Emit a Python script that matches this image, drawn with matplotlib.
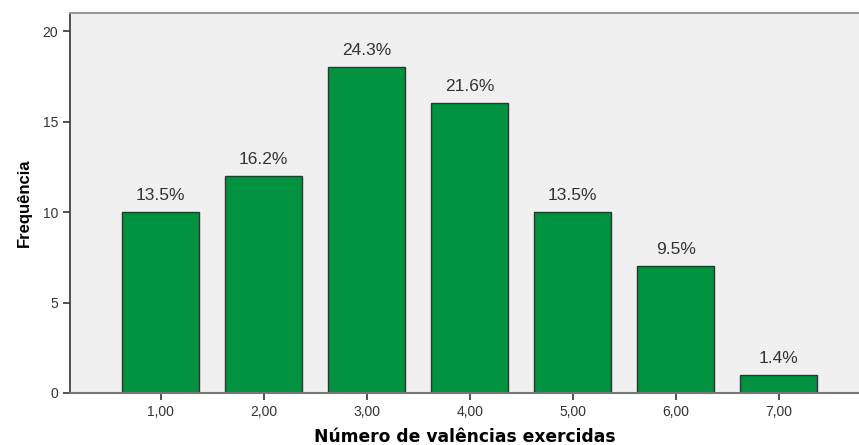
import matplotlib
matplotlib.use('Agg')
import matplotlib.pyplot as plt

# data
categories = ['1,00', '2,00', '3,00', '4,00', '5,00', '6,00', '7,00']
counts = [10, 12, 18, 16, 10, 7, 1]
pct_labels = ['13.5%', '16.2%', '24.3%', '21.6%', '13.5%', '9.5%', '1.4%']

plt.rcParams['font.family'] = ['Liberation Sans', 'DejaVu Sans']

fig = plt.figure(figsize=(8.59, 4.45), dpi=100)
ax = fig.add_axes([70 / 859, 52 / 445, 1 - 70 / 859, (393 - 13) / 445])
ax.set_facecolor('#F0F0F0')

x = list(range(1, len(counts) + 1))
bars = ax.bar(x, counts, width=0.75, color='#00923F', edgecolor='#333333', linewidth=1.0, zorder=2)

for b, lab in zip(bars, pct_labels):
    ax.text(b.get_x() + b.get_width() / 2, b.get_height() + 0.5, lab,
            ha='center', va='bottom', fontsize=12.5, color='#333333')

ax.set_xlim(0.12, 7.78)
ax.set_ylim(0, 21)
ax.set_xticks(x)
ax.set_xticklabels(categories)
ax.set_yticks([0, 5, 10, 15, 20])
ax.tick_params(axis='both', labelsize=10, colors='#333333', length=5, width=1.2)
ax.tick_params(axis='x', pad=4)

ax.spines['right'].set_visible(False)
ax.spines['top'].set_color('#999999')
ax.spines['top'].set_linewidth(1.5)
ax.spines['bottom'].set_color('#777777')
ax.spines['bottom'].set_linewidth(1.5)
ax.spines['left'].set_color('#333333')
ax.spines['left'].set_linewidth(1.2)

ax.set_ylabel('Frequência', fontsize=12, fontweight='bold', labelpad=8)
ax.set_xlabel('Número de valências exercidas', fontsize=12.3, fontweight='bold',
              family=['DejaVu Sans'], labelpad=6)

fig.savefig('out.png', dpi=100)
